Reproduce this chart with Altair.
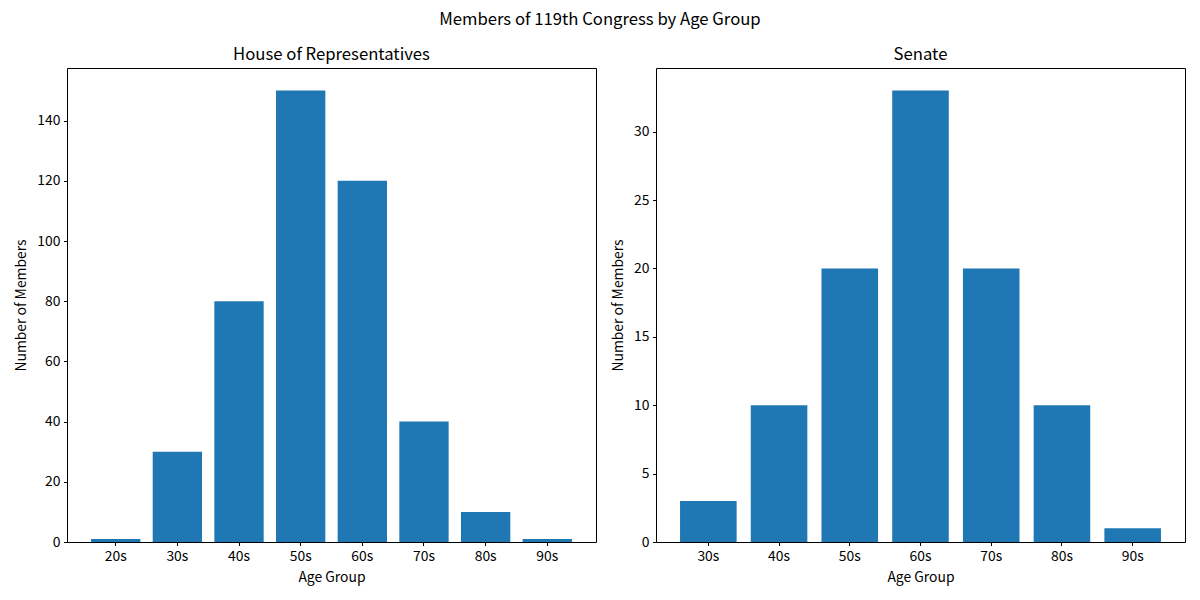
import altair as alt
import pandas as pd

house_groups = ["20s", "30s", "40s", "50s", "60s", "70s", "80s", "90s"]
house_counts = [1, 30, 80, 150, 120, 40, 10, 1]
senate_groups = ["30s", "40s", "50s", "60s", "70s", "80s", "90s"]
senate_counts = [3, 10, 20, 33, 20, 10, 1]
house_ticks = [0, 20, 40, 60, 80, 100, 120, 140]
senate_ticks = [0, 5, 10, 15, 20, 25, 30]

FONT = "Noto Sans CJK JP"


def panel(groups, counts, title, ymax, ticks, pad_outer):
    df = pd.DataFrame({"group": groups, "count": counts})
    return (
        alt.Chart(
            df,
            title=alt.TitleParams(title, fontSize=16.7, font=FONT, fontWeight="normal", offset=4, color="black"),
        )
        .mark_bar(color="#1f77b4")
        .encode(
            x=alt.X(
                "group:N",
                sort=groups,
                title="Age Group",
                scale=alt.Scale(paddingInner=0.2, paddingOuter=pad_outer),
                axis=alt.Axis(labelAngle=0),
            ),
            y=alt.Y(
                "count:Q",
                title="Number of Members",
                scale=alt.Scale(domain=[0, ymax], nice=False, zero=True),
                axis=alt.Axis(values=ticks),
            ),
        )
        .properties(width=529, height=474)
    )


house = panel(house_groups, house_counts, "House of Representatives", 157.5, house_ticks, 0.39)
senate = panel(senate_groups, senate_counts, "Senate", 34.65, senate_ticks, 0.34)

chart = (
    alt.hconcat(house, senate, spacing=14)
    .properties(
        title=alt.TitleParams(
            "Members of 119th Congress by Age Group",
            fontSize=16.7,
            font=FONT,
            fontWeight="normal",
            anchor="middle",
            color="black",
            offset=18,
        ),
        padding={"left": 14, "top": 12, "right": 10, "bottom": 4},
    )
    .configure(background="white")
    .configure_view(stroke="black", strokeWidth=1)
    .configure_axis(
        grid=False,
        domain=False,
        tickColor="black",
        tickSize=3.5,
        tickWidth=1,
        labelPadding=3.5,
        labelColor="black",
        labelFont=FONT,
        labelFontSize=13.9,
        titleFont=FONT,
        titleFontSize=13.9,
        titleFontWeight="normal",
        titleColor="black",
    )
    .configure_axisX(titlePadding=8)
    .configure_axisY(titlePadding=8)
)

chart.save("out.html", embed_options={"renderer": "svg", "actions": False})
